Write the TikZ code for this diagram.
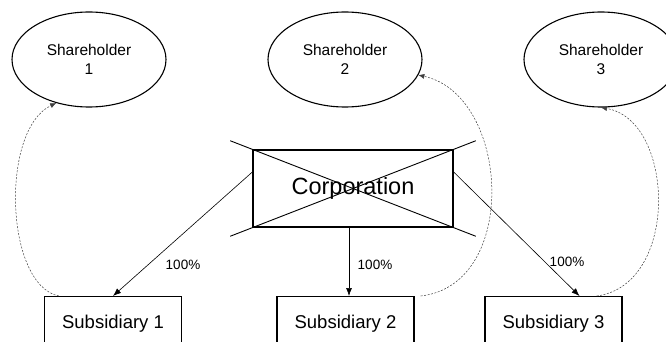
\documentclass[tikz,border=0pt]{standalone}
\usepackage{fontspec}
\setmainfont{Liberation Sans}
\usetikzlibrary{shapes.geometric,arrows.meta,calc}
\begin{document}
\begin{tikzpicture}[x=1pt,y=-1pt,
 holder/.style={draw,ellipse,line width=1.1pt,minimum width=154pt,minimum height=95pt,inner sep=0pt,align=center,font=\fontsize{15.5}{18.5}\selectfont},
 subbox/.style={draw,rectangle,line width=1.3pt,minimum width=137pt,minimum height=54pt,inner sep=0pt,anchor=north,font=\fontsize{18.5}{22}\selectfont},
 corpbox/.style={draw,rectangle,line width=1.3pt,minimum width=200pt,minimum height=77pt,inner sep=0pt,font=\fontsize{23.5}{28}\selectfont},
 own/.style={line width=0.6pt,-{Latex[length=8pt,width=6pt]}},
 back/.style={dash pattern=on 2pt off 1.5pt,line width=0.5pt,draw=black!75,-{Latex[length=6pt,width=5pt]}},
 pct/.style={font=\fontsize{13.5}{15}\selectfont,inner sep=0pt},
 crossline/.style={line width=0.9pt}]
\useasboundingbox (0,0) rectangle (666,342);
\clip (0,0) rectangle (666,342);
\node[holder] (Sh1) at (89,59.5) {Shareholder\\1};
\node[holder] (Sh2) at (345,59.5) {Shareholder\\2};
\node[holder] (Sh3) at (601,59.5) {Shareholder\\3};
\node[corpbox] (Corp) at (353,188.5) {Corporation};
\draw[crossline] ($(Corp.north west)!-0.11!(Corp.south east)$) -- ($(Corp.south east)!-0.11!(Corp.north west)$);
\draw[crossline] ($(Corp.south west)!-0.11!(Corp.north east)$) -- ($(Corp.north east)!-0.11!(Corp.south west)$);
\node[subbox] (Sub1) at (113,296) {Subsidiary 1};
\node[subbox] (Sub2) at (345.5,296) {Subsidiary 2};
\node[subbox] (Sub3) at (553.5,296) {Subsidiary 3};
\coordinate (c1) at ($(Corp.west)+(0,-16.5)$);
\coordinate (c2) at ($(Corp.south)+(-4,0)$);
\coordinate (c3) at ($(Corp.east)+(0,-16.5)$);
\coordinate (t3) at ($(Sub3.north)+(26,0)$);
\draw[own] (c1) -- (Sub1.north);
\draw[own] (c2) -- (c2 |- Sub2.north);
\draw[own] (c3) -- (t3);
\node[pct] (p1) at (183,265) {100\%};
\node[pct] (p2) at (375,265) {100\%};
\node[pct] (p3) at (567,262) {100\%};
\coordinate (s1) at ($(Sub1.north west)+(15,0)$);
\coordinate (s2) at ($(Sub2.north east)+(6,0)$);
\coordinate (s3) at ($(Sub3.north east)+(-26,0)$);
\draw[back] (s1) .. controls (5,285) and (0,130) .. (Sh1.233);
\draw[back] (s2) .. controls (520,285) and (510,95) .. (Sh2.348);
\draw[back] (s3) .. controls (680,285) and (675,120) .. (Sh3.south);
\end{tikzpicture}
\end{document}
